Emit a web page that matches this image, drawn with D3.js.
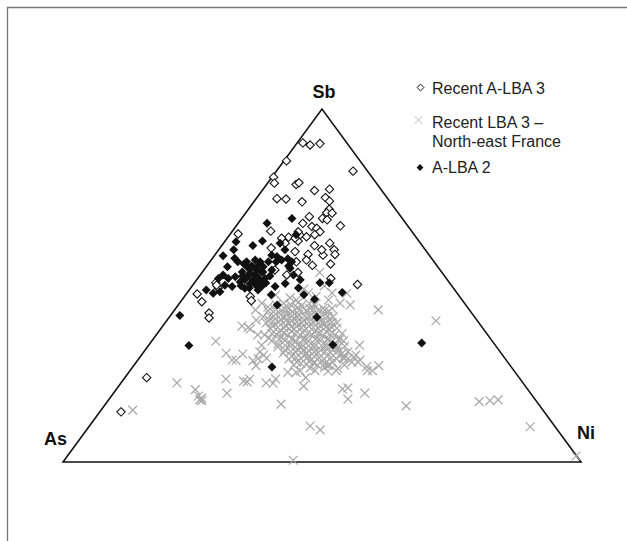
<!DOCTYPE html>
<html>
<head>
<meta charset="utf-8">
<script src="https://cdn.jsdelivr.net/npm/d3@7"></script>
<style>
  html, body { margin: 0; padding: 0; background: #fff; }
  svg { display: block; }
</style>
</head>
<body>
<svg id="chart" width="627" height="541"></svg>
<script>
// Ternary axis labels (vertices)
const axisLabels = ["As", "Sb", "Ni"];

// Series legend labels
const seriesNames = ["Recent A-LBA 3", "Recent LBA 3 –|North-east France", "A-LBA 2"];

// Data: [Sb %, Ni %]  (As % = 100 - Sb - Ni)
const recentALBA3 = [
  [90.4,1.1],[89.8,2.8],[90.2,4.5],[85.3,0.5],[82.4,14.8],[80.7,0.3],[79.0,1.3],[78.6,5.7],[79.1,6.0],
  [76.9,10.1],[77.3,12.8],[74.6,4.0],[74.5,5.8],[73.7,9.3],[74.9,13.2],[73.9,14.5],[71.6,15.6],[70.6,15.6],
  [70.5,16.7],[69.0,15.6],[68.6,16.7],[69.5,12.8],[67.6,12.5],[66.9,20.1],[65.4,7.4],[66.7,14.7],[66.2,15.9],
  [65.2,17.0],[63.7,11.7],[64.3,13.6],[63.8,15.1],[64.4,16.4],[64.6,1.5],[62.0,11.9],[62.6,14.1],[60.6,9.9],
  [61.3,17.9],[62.0,20.5],[60.1,22.3],[58.8,23.1],[58.6,20.9],[58.8,17.9],[59.6,15.0],[56.7,16.7],[55.7,20.3],
  [56.1,23.6],[53.7,18.5],[50.3,31.7],[52.0,25.7],[50.8,4.1],[49.3,5.3],[47.6,2.1],[45.4,4.1],[46.9,12.7],
  [45.7,13.5],[42.2,7.1],[40.8,7.8],[23.9,4.2],[14.2,4.1],[63.4,13.1],[63.4,10.5],[65.2,12.8],[54.4,13.7],
  [53.0,16.7],[50.1,4.6],[57.2,18.4],[60.1,19.9]
];

const recentLBA3NE = [
  [0.5,44.2],[1.7,98.2],[10.0,85.2],[10.2,42.6],[9.1,45.1],[17.1,71.8],[17.4,73.7],[17.6,75.2],[15.9,58.3],
  [16.4,33.9],[17.8,46.1],[20.7,43.6],[21.0,44.5],[19.5,48.5],[19.5,21.9],[18.1,17.7],[17.6,17.6],[18.7,16.8],
  [20.5,15.3],[22.4,10.8],[14.7,6.1],[23.5,19.7],[22.9,23.4],[23.5,24.3],[22.7,24.2],[22.4,28.0],[23.5,29.3],
  [21.5,35.7],[23.9,34.9],[25.4,30.7],[40.0,52.0],[43.1,39.3],[44.5,33.2],[33.1,40.7],[29.3,40.4],[28.9,42.9],
  [27.3,47.3],[25.9,45.8],[25.9,46.8],[34.2,12.4],[30.8,16.1],[28.8,19.0],[38.1,16.7],[37.7,17.3],[38.5,15.3],
  [31.2,22.4],[30.3,23.6],[29.3,23.0],[27.3,23.6],[53.7,22.7],[49.9,25.5],[47.9,28.0],[46.9,25.4],[49.0,22.0],
  [45.0,15.9],[43.9,17.6],[45.9,28.3],[45.0,31.0],[43.5,30.2],[29.3,39.6],[28.3,41.6],[30.3,41.4],[27.3,37.5],
  [25.9,39.8],[30.6,19.4],[28.7,22.3],[29.4,24.6],[22.3,29.4],[17.4,18.1],[43.1,15.6],[47.8,30.9],[27.0,45.1],
  [28.9,18.2],[31.2,39.4],[29.7,41.3],[28.3,42.8],[27.5,40.6],[36.0,19.6],[33.1,21.8],[40.2,17.2],[47.3,17.4],
  [45.9,22.1],[47.9,23.4],[46.5,20.6],[25.4,32.3],
  // dense cluster
  [44.5,18.9],[44.6,21.6],[44.3,23.9],[44.5,26.3],
  [42.8,18.2],[42.9,20.7],[42.6,23.0],[42.8,25.5],[43.0,27.8],[42.7,30.0],
  [41.1,18.1],[41.3,20.0],[41.0,22.4],[41.1,24.7],[41.2,27.0],[40.9,29.3],[41.1,31.6],
  [39.4,19.5],[39.6,21.8],[39.3,24.1],[39.4,26.4],[39.5,28.6],[39.2,30.9],[39.4,33.2],
  [37.7,21.2],[37.9,23.7],[37.6,25.8],[37.7,28.1],[37.8,30.4],[37.5,32.7],
  [36.0,20.9],[36.2,23.1],[35.9,25.4],[36.0,27.8],[36.1,29.9],[35.8,32.2],[36.0,34.5],
  [34.3,23.2],[34.5,25.6],[34.2,27.9],[34.3,30.2],[34.4,32.5],[34.1,34.8],[34.3,37.0],
  [32.6,25.2],[32.8,27.5],[32.5,29.8],[32.6,32.2],[32.7,34.5],[32.4,36.8],
  [30.9,27.1],[31.1,29.4],[30.8,31.7],[30.9,33.8],[31.0,36.1],[30.7,38.5],
  [29.2,29.0],[29.4,31.2],[29.1,33.5],[29.2,35.8],[29.3,38.1],
  [27.5,30.8],[27.7,33.1],[27.4,35.4],[27.5,37.7],
  [25.8,32.9],[25.9,35.7],[25.7,38.3],
  [43.6,20.9],[43.7,23.4],[43.5,25.9],[43.6,28.4],
  [41.9,20.1],[42.1,22.2],[41.8,24.6],[41.9,27.1],[42.0,29.4],
  [40.2,19.7],[40.4,21.8],[40.1,24.1],[40.2,26.4],[40.3,28.7],[40.0,31.1],
  [38.5,21.2],[38.7,23.6],[38.4,25.9],[38.5,28.2],[38.6,30.3],[38.3,32.6],
  [36.8,23.3],[37.0,25.6],[36.7,27.9],[36.8,30.2],[36.9,32.4],
  [35.1,22.2],[35.3,24.5],[35.0,26.8],[35.1,29.1],[35.2,31.4],[34.9,33.8],[35.1,35.9],
  [33.4,24.8],[33.6,27.1],[33.3,29.4],[33.4,31.8],[33.5,34.1],[33.2,36.2],
  [31.7,27.0],[31.9,29.3],[31.6,31.6],[31.7,33.9],[31.8,36.2],
  [30.0,29.2],[30.2,31.5],[29.9,33.6],[30.0,36.0],[30.1,38.3],
  [28.3,31.0],[28.5,33.3],[28.2,35.6],[28.3,37.9],
  [26.6,34.4],[26.8,37.1],[26.5,39.8],
  [45.0,20.1],[45.2,22.8],[44.9,25.1],
  [43.2,19.4],[43.4,21.9],[43.1,24.2],[43.3,26.7],[43.0,29.0],
  [41.5,19.2],[41.7,21.2],[41.4,23.6],[41.5,25.9],[41.6,28.2],[41.3,30.5],
  [39.8,20.7],[40.0,23.0],[39.7,25.3],[39.8,27.6],[39.9,29.8],[39.6,32.1],
  [38.1,22.4],[38.3,24.9],[38.0,27.0],[38.1,29.3],[38.2,31.6],[37.9,33.9],
  [36.4,22.1],[36.6,24.3],[36.3,26.6],[36.4,29.0],[36.5,31.1],[36.2,33.4],[36.4,35.7],
  [34.7,24.4],[34.9,26.8],[34.6,29.1],[34.7,31.4],[34.8,33.7],[34.5,36.0],
  [33.0,26.4],[33.2,28.7],[32.9,31.0],[33.0,33.4],[33.1,35.7],[32.8,38.0],
  [31.3,28.3],[31.5,30.6],[31.2,32.9],[31.3,35.0],[31.4,37.3],
  [29.6,30.2],[29.8,32.4],[29.5,34.7],[29.6,37.0],[29.7,39.3],
  [27.9,32.0],[28.1,34.3],[27.8,36.6]
];

const aLBA2 = [
  [69.0,9.7],[67.6,5.6],[64.4,12.8],[62.4,2.2],[62.6,7.2],[61.3,6.0],[60.1,2.9],[58.4,1.7],[57.7,4.3],
  [56.7,5.4],[56.7,7.1],[57.2,8.5],[55.3,4.1],[55.3,11.0],[58.6,11.0],[58.2,12.2],[57.2,13.6],[57.6,14.6],
  [53.5,9.4],[53.0,10.6],[53.9,11.4],[51.6,9.3],[51.6,10.9],[51.1,12.5],[52.0,13.0],[52.0,4.0],[53.0,4.4],
  [52.0,5.9],[52.5,7.0],[50.1,6.2],[49.7,7.8],[48.7,3.3],[47.8,5.1],[48.2,6.2],[49.2,10.5],[48.7,13.3],
  [49.7,16.1],[50.6,17.6],[54.9,16.4],[53.0,18.0],[51.6,20.0],[44.5,19.1],[41.5,1.8],[33.0,7.8],[49.3,20.8],
  [47.4,16.5],[47.4,22.8],[46.1,25.5],[50.8,24.2],[50.8,26.0],[48.0,29.9],[41.0,28.5],[33.2,35.5],[26.9,26.9],
  [33.7,52.4],[62.0,10.9],[55.5,15.8],[55.0,8.2],[55.5,8.7],[54.4,10.1],[53.8,7.7],[52.7,9.3],[52.4,11.4],
  [50.4,10.9],[49.9,13.5],[56.1,6.9],[56.7,11.3],[54.4,13.1],[51.0,8.7],
  [55.0,8.6],[55.5,9.9],[53.8,11.7],[52.1,9.3],[51.0,11.4],[49.9,9.4],[49.3,11.3],[49.9,12.4],[50.7,13.8],
  [52.7,13.6],[52.7,8.3],[56.7,9.7],[60.1,12.8],[56.7,15.8],[56.7,12.8]
];

const svg = d3.select("#chart");

// Frame
svg.append("path")
  .attr("d", "M7.5,541 L7.5,7.5 L627,7.5")
  .attr("fill", "none").attr("stroke", "#777").attr("stroke-width", 1.3);

// Ternary scales
const sbScale = d3.scaleLinear().domain([0, 100]).range([462, 109]);   // vertical
const hScale  = d3.scaleLinear().domain([0, 100]).range([63, 581]);    // horizontal (Ni + Sb/2)

function project(sb, ni) {
  const as = 100 - sb - ni;
  const t = as + sb + ni;
  const s = sb / t * 100, n = ni / t * 100;
  return [hScale(n + s / 2), sbScale(s)];
}

const vAs = project(0, 0), vSb = project(100, 0), vNi = project(0, 100);

svg.append("path")
  .attr("d", d3.line()([vAs, vSb, vNi]) + "Z")
  .attr("fill", "none").attr("stroke", "#111").attr("stroke-width", 1.6)
  .attr("stroke-linejoin", "miter");

// Vertex labels
const labelFont = "'Liberation Sans', Arial, sans-serif";
svg.append("text").text(axisLabels[1]).attr("x", vSb[0] + 2).attr("y", 98)
  .attr("text-anchor", "middle").attr("font-family", labelFont).attr("font-weight", "bold")
  .attr("font-size", 18).attr("fill", "#111");
svg.append("text").text(axisLabels[0]).attr("x", 44).attr("y", 445)
  .attr("font-family", labelFont).attr("font-weight", "bold")
  .attr("font-size", 18).attr("fill", "#111");
svg.append("text").text(axisLabels[2]).attr("x", 577).attr("y", 438.5)
  .attr("font-family", labelFont).attr("font-weight", "bold")
  .attr("font-size", 18).attr("fill", "#111");

const diamond = r => `M0,${-r}L${r},0L0,${r}L${-r},0Z`;
const cross = r => `M${-r},${-r}L${r},${r}M${-r},${r}L${r},${-r}`;

// Crosses
svg.append("g").selectAll("path").data(recentLBA3NE).join("path")
  .attr("transform", d => { const p = project(d[0], d[1]); return `translate(${p[0]},${p[1]})`; })
  .attr("d", cross(4.4)).attr("fill", "none").attr("stroke", "#a8a8a8").attr("stroke-width", 1.2);

// Open diamonds
svg.append("g").selectAll("path").data(recentALBA3).join("path")
  .attr("transform", d => { const p = project(d[0], d[1]); return `translate(${p[0]},${p[1]})`; })
  .attr("d", diamond(4.2)).attr("fill", "#fff").attr("stroke", "#111").attr("stroke-width", 1.1);

// Filled diamonds
svg.append("g").selectAll("path").data(aLBA2).join("path")
  .attr("transform", d => { const p = project(d[0], d[1]); return `translate(${p[0]},${p[1]})`; })
  .attr("d", diamond(4.5)).attr("fill", "#111").attr("stroke", "none");

// Legend
const legFont = "'Liberation Sans', Arial, sans-serif";
const leg = svg.append("g");
leg.append("path").attr("transform", "translate(420.5,87.5)").attr("d", diamond(3.4))
  .attr("fill", "#fff").attr("stroke", "#111").attr("stroke-width", 1);
leg.append("text").text(seriesNames[0]).attr("x", 432).attr("y", 94)
  .attr("font-family", legFont).attr("font-size", 16).attr("fill", "#222");

leg.append("path").attr("transform", "translate(418.5,120)").attr("d", cross(3.8))
  .attr("fill", "none").attr("stroke", "#bbbbbb").attr("stroke-width", 1);
const lines2 = seriesNames[1].split("|");
leg.append("text").text(lines2[0]).attr("x", 432).attr("y", 128)
  .attr("font-family", legFont).attr("font-size", 16).attr("fill", "#222");
leg.append("text").text(lines2[1]).attr("x", 432).attr("y", 146.5)
  .attr("font-family", legFont).attr("font-size", 16).attr("fill", "#222");

leg.append("path").attr("transform", "translate(420,167.5)").attr("d", diamond(3.4))
  .attr("fill", "#111");
leg.append("text").text(seriesNames[2]).attr("x", 432).attr("y", 173)
  .attr("font-family", legFont).attr("font-size", 16).attr("fill", "#222");
</script>
</body>
</html>
